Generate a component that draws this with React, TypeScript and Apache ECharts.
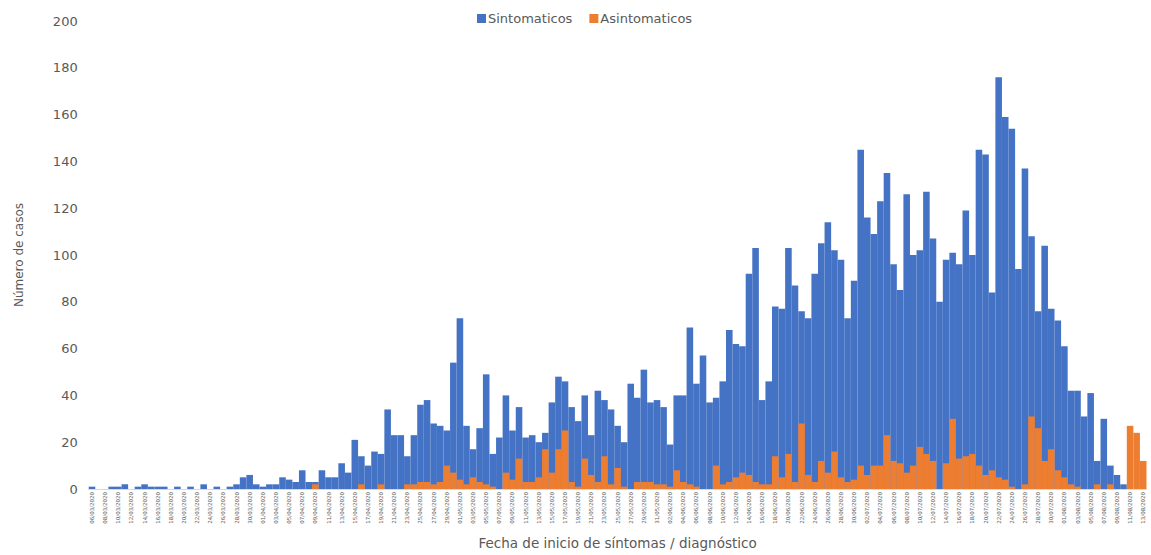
import React, { useEffect, useRef } from "react";
import * as echarts from "echarts";

// Start of the (unreadable) daily date labels, one category per day
const startDate = "2020-03-06";

const sintomaticos = [
  1, 0, 0, 1, 1, 2, 0, 1, 2, 1,
  1, 1, 0, 1, 0, 1, 0, 2, 0, 1,
  0, 1, 2, 5, 6, 2, 1, 2, 2, 5,
  4, 3, 8, 3, 3, 8, 5, 5, 11, 7,
  21, 14, 10, 16, 15, 34, 23, 23, 14, 23,
  36, 38, 28, 27, 25, 54, 73, 27, 17, 26,
  49, 15, 22, 40, 25, 35, 22, 23, 20, 24,
  37, 48, 46, 35, 29, 40, 23, 42, 38, 34,
  27, 20, 45, 39, 51, 37, 38, 35, 19, 40,
  40, 69, 45, 57, 37, 39, 46, 68, 62, 61,
  92, 103, 38, 46, 78, 77, 103, 87, 76, 73,
  92, 105, 114, 102, 98, 73, 89, 145, 116, 109,
  123, 135, 96, 85, 126, 100, 102, 127, 107, 80,
  98, 101, 96, 119, 100, 145, 143, 84, 176, 159,
  154, 94, 137, 108, 76, 104, 77, 72, 61, 42,
  42, 31, 41, 12, 30, 10, 6, 2, 0, 0,
  0,
];

const asintomaticos = [
  0, 0, 0, 0, 0, 0, 0, 0, 0, 0,
  0, 0, 0, 0, 0, 0, 0, 0, 0, 0,
  0, 0, 0, 0, 0, 0, 0, 0, 0, 0,
  0, 0, 0, 0, 2, 0, 0, 0, 0, 0,
  0, 2, 0, 0, 2, 0, 0, 0, 2, 2,
  3, 3, 2, 3, 10, 7, 4, 2, 5, 3,
  2, 1, 0, 7, 4, 13, 3, 3, 5, 17,
  7, 17, 25, 3, 1, 13, 6, 3, 14, 2,
  9, 1, 0, 3, 3, 3, 2, 2, 1, 8,
  3, 2, 1, 0, 0, 10, 2, 3, 5, 7,
  6, 3, 2, 2, 14, 5, 15, 3, 28, 6,
  3, 12, 7, 16, 5, 3, 4, 10, 6, 10,
  10, 23, 12, 11, 7, 10, 18, 15, 12, 0,
  11, 30, 13, 14, 15, 10, 6, 8, 5, 4,
  1, 0, 2, 31, 26, 12, 17, 8, 5, 2,
  1, 0, 0, 2, 0, 2, 0, 0, 27, 24,
  12,
];

const seriesNames = ["Sintomaticos", "Asintomaticos"];
const seriesColors = ["#4472C4", "#ED7D31"];

function buildDates(start: string, count: number): string[] {
  const out: string[] = [];
  const d0 = new Date(start + "T00:00:00Z");
  for (let k = 0; k < count; k++) {
    const d = new Date(d0.getTime() + k * 86400000);
    const dd = String(d.getUTCDate()).padStart(2, "0");
    const mm = String(d.getUTCMonth() + 1).padStart(2, "0");
    out.push(`${dd}/${mm}/${d.getUTCFullYear()}`);
  }
  return out;
}

const categories = buildDates(startDate, sintomaticos.length);

const FONT = "DejaVu Sans";
const TXT = "#595959";

export default function App() {
  const ref = useRef<HTMLDivElement>(null);

  useEffect(() => {
    if (!ref.current) return;
    const chart = echarts.init(ref.current, undefined, { renderer: "svg" });
    chart.setOption({
      animation: false,
      backgroundColor: "#ffffff",
      textStyle: { fontFamily: FONT },
      legend: {
        left: 472,
        top: 7,
        itemWidth: 9,
        itemHeight: 9,
        itemGap: 17,
        icon: "rect",
        textStyle: { fontFamily: FONT, fontSize: 13, color: TXT, padding: [0, 0, 0, -3] },
        data: seriesNames,
      },
      grid: { left: 88.7, right: 4.5, top: 21, bottom: 64 },
      xAxis: {
        type: "category",
        data: categories,
        axisTick: { show: false },
        axisLine: { show: true, lineStyle: { color: "#d9d9d9" } },
        axisLabel: {
          rotate: 90,
          interval: 1,
          fontSize: 5.5,
          color: TXT,
          margin: 3,
          fontFamily: FONT,
        },
        name: "Fecha de inicio de síntomas / diagnóstico",
        nameLocation: "middle",
        nameGap: 47,
        nameTextStyle: { fontFamily: FONT, fontSize: 13.5, color: TXT },
      },
      yAxis: {
        type: "value",
        min: 0,
        max: 200,
        interval: 20,
        splitLine: { show: false },
        axisLine: { show: false },
        axisTick: { show: false },
        axisLabel: { fontFamily: FONT, fontSize: 13, color: TXT, margin: 11 },
        name: "Número de casos",
        nameLocation: "middle",
        nameGap: 64,
        nameRotate: 90,
        nameTextStyle: { fontFamily: FONT, fontSize: 12, color: TXT },
      },
      series: [
        {
          name: seriesNames[0],
          type: "bar",
          data: sintomaticos,
          itemStyle: { color: seriesColors[0] },
          barGap: "-100%",
          barCategoryGap: "0%",
        },
        {
          name: seriesNames[1],
          type: "bar",
          data: asintomaticos,
          itemStyle: { color: seriesColors[1] },
          barGap: "-100%",
          barCategoryGap: "0%",
        },
      ],
    });
    return () => chart.dispose();
  }, []);

  return (
    <div
      ref={ref}
      style={{ position: "fixed", left: 0, top: 0, width: 1151, height: 555, background: "#fff" }}
    />
  );
}
